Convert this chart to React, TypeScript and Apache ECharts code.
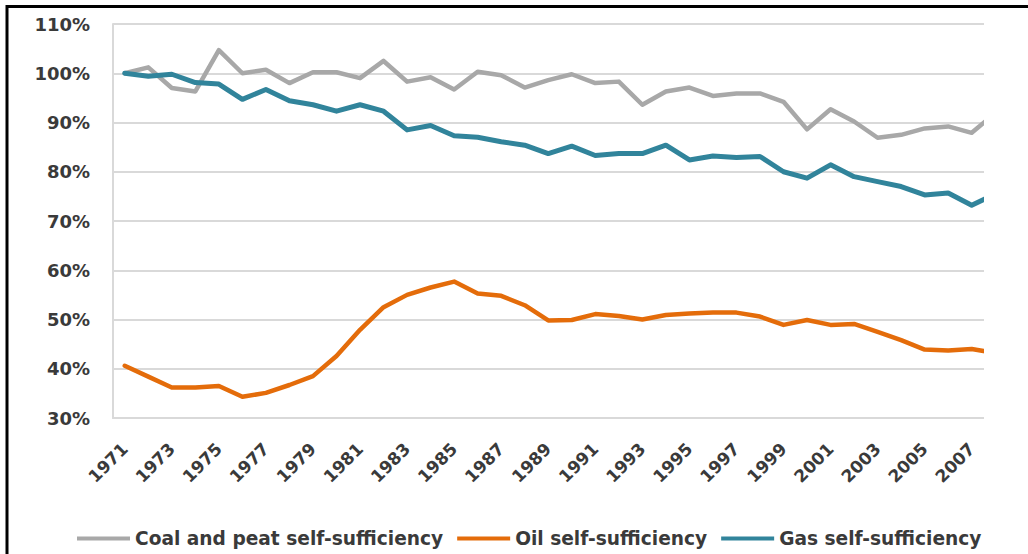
import React, { useEffect, useRef } from "react";
import * as echarts from "echarts";

const years = [
  "1971","1972","1973","1974","1975","1976","1977","1978","1979","1980",
  "1981","1982","1983","1984","1985","1986","1987","1988","1989","1990",
  "1991","1992","1993","1994","1995","1996","1997","1998","1999","2000",
  "2001","2002","2003","2004","2005","2006","2007","2008",
];

const coalValues = [
  100.0, 101.2, 97.0, 96.3, 104.7, 100.0, 100.7, 98.0, 100.2, 100.2,
  99.0, 102.5, 98.3, 99.2, 96.7, 100.3, 99.6, 97.1, 98.6, 99.8,
  98.0, 98.3, 93.6, 96.3, 97.1, 95.4, 95.9, 95.9, 94.2, 88.6,
  92.7, 90.2, 86.9, 87.5, 88.8, 89.2, 87.9, 91.9,
];

const oilValues = [
  40.6, 38.4, 36.2, 36.2, 36.5, 34.3, 35.1, 36.7, 38.5, 42.6,
  47.9, 52.5, 55.0, 56.5, 57.7, 55.3, 54.8, 52.9, 49.8, 49.9,
  51.1, 50.7, 50.0, 50.9, 51.2, 51.4, 51.4, 50.6, 48.9, 49.9,
  48.9, 49.1, 47.5, 45.8, 43.9, 43.7, 44.0, 43.2,
];

const gasValues = [
  100.0, 99.4, 99.8, 98.1, 97.8, 94.7, 96.7, 94.4, 93.6, 92.3,
  93.6, 92.3, 88.5, 89.4, 87.3, 87.0, 86.1, 85.4, 83.7, 85.2,
  83.3, 83.7, 83.7, 85.4, 82.4, 83.2, 82.9, 83.1, 80.0, 78.7,
  81.4, 79.0, 78.0, 77.0, 75.3, 75.7, 73.2, 75.5,
];

const seriesNames = [
  "Coal and peat self-sufficiency",
  "Oil self-sufficiency",
  "Gas self-sufficiency",
];
const seriesColors = ["#A8A8A8", "#E46C0A", "#31849B"];

const FONT = "DejaVu Sans";
const TEXT_COLOR = "#3a3a3a";

export default function App() {
  const ref = useRef<HTMLDivElement>(null);

  useEffect(() => {
    if (!ref.current) return;
    const chart = echarts.init(ref.current, null, { renderer: "svg" });
    const allData = [coalValues, oilValues, gasValues];
    chart.setOption({
      animation: false,
      backgroundColor: "#ffffff",
      grid: { left: 113, right: 21, top: 24, bottom: 136, containLabel: false },
      xAxis: {
        type: "category",
        data: years,
        boundaryGap: true,
        axisLine: { show: true, lineStyle: { color: "#D9D9D9", width: 2 } },
        axisTick: { show: false },
        axisLabel: {
          interval: 1,
          rotate: 45,
          margin: 28,
          color: TEXT_COLOR,
          fontFamily: FONT,
          fontWeight: "bold",
          fontSize: 17,
        },
        splitLine: { show: false },
      },
      yAxis: {
        type: "value",
        min: 30,
        max: 110,
        interval: 10,
        axisLine: { show: true, lineStyle: { color: "#D9D9D9", width: 2 } },
        axisTick: { show: false },
        axisLabel: {
          formatter: "{value}%",
          margin: 23,
          color: TEXT_COLOR,
          fontFamily: FONT,
          fontWeight: "bold",
          fontSize: 18,
        },
        splitLine: { show: true, lineStyle: { color: "#D9D9D9", width: 2 } },
      },
      legend: {
        show: true,
        left: 72,
        top: 524,
        icon: "rect",
        itemWidth: 53,
        itemHeight: 4,
        itemGap: 14,
        textStyle: {
          color: TEXT_COLOR,
          fontFamily: FONT,
          fontWeight: "bold",
          fontSize: 18.6,
        },
        data: seriesNames,
      },
      series: seriesNames.map((name, i) => ({
        name,
        type: "line",
        data: allData[i],
        symbol: "none",
        smooth: false,
        color: seriesColors[i],
        lineStyle: {
          color: seriesColors[i],
          width: i === 2 ? 5 : 4.5,
          join: "round",
          cap: "round",
        },
        z: 2 + i,
      })),
      graphic: [
        {
          type: "rect",
          z: 100,
          shape: { x: 984, y: 14, width: 60, height: 500 },
          style: { fill: "#ffffff", stroke: "none" },
        },
        {
          type: "rect",
          z: 101,
          shape: { x: 7, y: 6.5, width: 1200, height: 800 },
          style: { fill: "none", stroke: "#000000", lineWidth: 3 },
        },
      ],
    });
    return () => chart.dispose();
  }, []);

  return (
    <div
      ref={ref}
      style={{ position: "absolute", left: 0, top: 0, width: 1028, height: 554 }}
    />
  );
}
